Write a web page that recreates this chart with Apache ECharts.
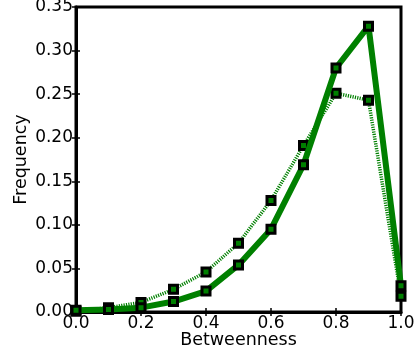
<!DOCTYPE html>
<html>
<head>
<meta charset="utf-8">
<script src="https://cdn.jsdelivr.net/npm/echarts@6/dist/echarts.min.js"></script>
<style>
  html, body { margin: 0; padding: 0; background: #fff; }
  #main { width: 415px; height: 363px; }
</style>
</head>
<body>
<div id="main"></div>
<script>
// data
const betweenness = [0.0, 0.1, 0.2, 0.3, 0.4, 0.5, 0.6, 0.7, 0.8, 0.9, 1.0];
const solidFreq = [0.002, 0.003, 0.005, 0.012, 0.024, 0.054, 0.095, 0.169, 0.280, 0.328, 0.030];
const dottedFreq = [0.001, 0.005, 0.011, 0.026, 0.046, 0.079, 0.128, 0.191, 0.251, 0.243, 0.018];

const green = '#008000';
const font = 'DejaVu Sans';

function pairs(ys) {
  return betweenness.map((x, i) => [x, ys[i]]);
}

const chart = echarts.init(document.getElementById('main'));

const option = {
  animation: false,
  grid: {
    left: 76,
    right: 14,
    top: 7,
    bottom: 51,
    outerBoundsMode: 'none',
    containLabel: false,
    show: true,
    borderColor: '#000',
    borderWidth: 3
  },
  xAxis: [
    {
      type: 'value',
      min: 0, max: 1, interval: 0.2,
      name: 'Betweenness',
      nameLocation: 'middle',
      nameGap: 19,
      nameMoveOverlap: false,
      nameTextStyle: { fontFamily: font, fontSize: 17.5, color: '#000' },
      axisLine: { show: true, lineStyle: { color: '#000', width: 3 } },
      axisTick: { show: true, inside: true, length: 4, lineStyle: { color: '#000', width: 1.5 } },
      axisLabel: { fontFamily: font, fontSize: 17, color: '#000', margin: 3,
        formatter: v => v.toFixed(1) },
      splitLine: { show: false }
    },
    {
      type: 'value', position: 'top',
      min: 0, max: 1, interval: 0.2,
      axisLine: { show: false },
      axisTick: { show: true, inside: true, length: 4, lineStyle: { color: '#000', width: 1.5 } },
      axisLabel: { show: false },
      splitLine: { show: false }
    }
  ],
  yAxis: [
    {
      type: 'value',
      min: 0, max: 0.35, interval: 0.05,
      name: 'Frequency',
      nameLocation: 'middle',
      nameGap: 46,
      nameMoveOverlap: false,
      nameTextStyle: { fontFamily: font, fontSize: 17.5, color: '#000' },
      axisLine: { show: true, lineStyle: { color: '#000', width: 3 } },
      axisTick: { show: true, inside: true, length: 4, lineStyle: { color: '#000', width: 1.5 } },
      axisLabel: { fontFamily: font, fontSize: 17, color: '#000', margin: 3,
        formatter: v => v.toFixed(2) },
      splitLine: { show: false }
    },
    {
      type: 'value', position: 'right',
      min: 0, max: 0.35, interval: 0.05,
      axisLine: { show: false },
      axisTick: { show: true, inside: true, length: 4, lineStyle: { color: '#000', width: 1.5 } },
      axisLabel: { show: false },
      splitLine: { show: false }
    }
  ],
  series: [
    {
      type: 'line',
      data: pairs(dottedFreq),
      clip: true,
      symbol: 'rect',
      symbolSize: 8,
      itemStyle: { color: green, borderColor: '#000', borderWidth: 3 },
      lineStyle: { color: green, width: 3.5, type: [1.2, 1.2] },
      z: 2
    },
    {
      type: 'line',
      data: pairs(solidFreq),
      clip: true,
      symbol: 'rect',
      symbolSize: 8,
      itemStyle: { color: green, borderColor: '#000', borderWidth: 3 },
      lineStyle: { color: green, width: 6 },
      z: 3
    }
  ]
};

chart.setOption(option);
</script>
</body>
</html>
